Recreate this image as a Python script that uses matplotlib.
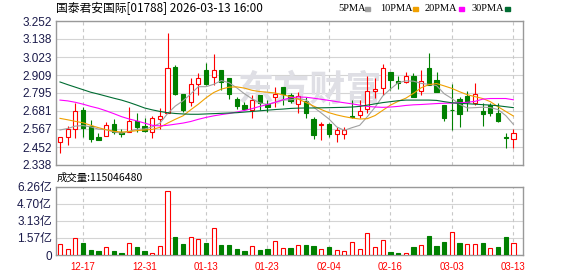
import numpy as np
import matplotlib
matplotlib.use("Agg")
import matplotlib.pyplot as plt
from matplotlib.patches import Rectangle

plt.rcParams['font.family'] = ['Liberation Sans', 'Noto Sans CJK SC', 'DejaVu Sans']

# --- data ---
opens = [2.482, 2.513, 2.568, 2.687, 2.585, 2.516, 2.522, 2.596, 2.547, 2.545,
         2.615, 2.585, 2.549, 2.632, 2.670, 2.958, 2.789, 2.736, 2.852, 2.941,
         2.894, 2.941, 2.890, 2.755, 2.717, 2.687, 2.782, 2.725, 2.772, 2.831,
         2.782, 2.725, 2.746, 2.628, 2.592, 2.598, 2.534, 2.532, 2.649, 2.653,
         2.695, 2.810, 2.825, 2.928, 2.873, 2.863, 2.903, 2.810, 2.954, 2.877,
         2.719, 2.689, 2.757, 2.778, 2.733, 2.681, 2.719, 2.668, 2.513, 2.501]
highs = [2.517, 2.585, 2.729, 2.708, 2.624, 2.539, 2.613, 2.630, 2.566, 2.708,
         2.666, 2.634, 2.649, 2.698, 3.178, 2.973, 2.789, 2.888, 2.924, 2.983,
         3.042, 2.941, 2.890, 2.767, 2.738, 2.782, 2.782, 2.750, 2.831, 2.831,
         2.793, 2.803, 2.767, 2.645, 2.613, 2.607, 2.581, 2.581, 2.750, 2.750,
         2.903, 2.888, 2.979, 2.928, 2.903, 2.928, 2.924, 2.941, 3.051, 2.930,
         2.719, 2.852, 2.772, 2.808, 2.856, 2.729, 2.729, 2.729, 2.539, 2.566]
lows = [2.416, 2.467, 2.511, 2.518, 2.482, 2.494, 2.522, 2.532, 2.518, 2.545,
        2.549, 2.547, 2.511, 2.566, 2.665, 2.782, 2.672, 2.714, 2.782, 2.846,
        2.846, 2.814, 2.759, 2.695, 2.687, 2.638, 2.687, 2.676, 2.708, 2.719,
        2.733, 2.670, 2.634, 2.501, 2.496, 2.513, 2.484, 2.501, 2.634, 2.634,
        2.666, 2.761, 2.782, 2.814, 2.820, 2.856, 2.772, 2.784, 2.846, 2.803,
        2.619, 2.560, 2.581, 2.683, 2.719, 2.587, 2.651, 2.613, 2.448, 2.448]
closes = [2.513, 2.566, 2.681, 2.571, 2.501, 2.494, 2.594, 2.547, 2.535, 2.615,
          2.581, 2.551, 2.634, 2.649, 2.951, 2.789, 2.687, 2.850, 2.888, 2.852,
          2.941, 2.867, 2.786, 2.712, 2.691, 2.750, 2.729, 2.704, 2.786, 2.789,
          2.742, 2.776, 2.670, 2.528, 2.598, 2.534, 2.560, 2.560, 2.640, 2.681,
          2.808, 2.820, 2.951, 2.877, 2.861, 2.901, 2.772, 2.871, 2.846, 2.803,
          2.638, 2.685, 2.664, 2.740, 2.786, 2.664, 2.666, 2.619, 2.509, 2.539]

ma5 = [2.560, 2.570, 2.585, 2.588, 2.580, 2.566, 2.562, 2.548, 2.540, 2.552,
       2.565, 2.566, 2.580, 2.603, 2.665, 2.712, 2.745, 2.788, 2.835, 2.835,
       2.850, 2.874, 2.860, 2.828, 2.790, 2.758, 2.732, 2.722, 2.735, 2.750,
       2.752, 2.759, 2.752, 2.705, 2.668, 2.630, 2.580, 2.558, 2.575, 2.590,
       2.645, 2.705, 2.776, 2.820, 2.860, 2.872, 2.870, 2.856, 2.850, 2.842,
       2.790, 2.760, 2.723, 2.700, 2.702, 2.705, 2.702, 2.690, 2.652, 2.596]
ma10 = [2.634, 2.625, 2.615, 2.606, 2.590, 2.575, 2.562, 2.552, 2.547, 2.550,
        2.556, 2.560, 2.564, 2.577, 2.604, 2.628, 2.650, 2.688, 2.724, 2.764,
        2.798, 2.820, 2.832, 2.834, 2.826, 2.812, 2.804, 2.800, 2.795, 2.783,
        2.772, 2.756, 2.735, 2.712, 2.690, 2.670, 2.656, 2.645, 2.636, 2.630,
        2.632, 2.652, 2.685, 2.718, 2.742, 2.762, 2.793, 2.828, 2.848, 2.855,
        2.840, 2.824, 2.803, 2.784, 2.772, 2.760, 2.740, 2.708, 2.678, 2.649]
ma20 = [2.750, 2.745, 2.736, 2.724, 2.710, 2.698, 2.682, 2.664, 2.645, 2.630,
        2.618, 2.604, 2.590, 2.586, 2.590, 2.597, 2.604, 2.614, 2.628, 2.640,
        2.650, 2.658, 2.665, 2.674, 2.684, 2.696, 2.710, 2.722, 2.736, 2.752,
        2.765, 2.770, 2.768, 2.762, 2.755, 2.748, 2.740, 2.733, 2.726, 2.718,
        2.710, 2.706, 2.704, 2.706, 2.710, 2.716, 2.720, 2.722, 2.725, 2.728,
        2.730, 2.731, 2.733, 2.736, 2.742, 2.756, 2.760, 2.760, 2.760, 2.752]
ma30 = [2.865, 2.848, 2.832, 2.816, 2.800, 2.788, 2.775, 2.762, 2.750, 2.735,
        2.718, 2.700, 2.688, 2.678, 2.670, 2.665, 2.662, 2.660, 2.660, 2.662,
        2.664, 2.666, 2.668, 2.670, 2.674, 2.678, 2.682, 2.686, 2.690, 2.693,
        2.697, 2.699, 2.700, 2.700, 2.701, 2.702, 2.703, 2.704, 2.706, 2.710,
        2.718, 2.726, 2.734, 2.740, 2.746, 2.750, 2.750, 2.750, 2.750, 2.748,
        2.740, 2.733, 2.729, 2.727, 2.724, 2.721, 2.718, 2.714, 2.708, 2.702]

# volume in 亿
volume = [0.98, 0.52, 1.53, 1.10, 0.46, 0.37, 0.71, 0.37, 0.18, 1.07,
          0.74, 0.37, 0.18, 0.83, 5.90, 1.66, 1.01, 1.66, 1.47, 1.10,
          2.49, 0.92, 0.92, 0.55, 0.37, 0.83, 0.46, 0.55, 1.29, 0.64,
          0.64, 0.92, 0.92, 0.83, 0.55, 0.74, 0.46, 0.37, 1.20, 0.55,
          2.03, 0.74, 1.38, 0.28, 0.18, 0.18, 0.74, 0.92, 1.78, 0.83,
          1.20, 2.09, 1.10, 1.01, 1.01, 1.10, 0.64, 0.74, 1.69, 1.15]
vol_up = [1, 1, 1, 0, 0, 0, 1, 0, 0, 1, 0, 0, 1, 1, 1, 0, 0, 1, 1, 0,
          1, 0, 0, 0, 0, 1, 0, 0, 1, 1, 0, 1, 0, 0, 1, 0, 1, 1, 1, 1,
          1, 1, 1, 0, 0, 1, 0, 1, 0, 0, 0, 1, 0, 1, 1, 0, 1, 0, 0, 1]

date_pos = [3, 11, 19, 27, 35, 43, 51, 59]
date_labels = ['12-17', '12-31', '01-13', '01-23', '02-04', '02-16', '03-03', '03-13']
price_ticks = [2.338, 2.452, 2.567, 2.681, 2.795, 2.909, 3.023, 3.138, 3.252]
vol_ticks = [0, 1.57, 3.13, 4.70, 6.26]
vol_tick_labels = ['0', '1.57亿', '3.13亿', '4.70亿', '6.26亿']

RED = '#ff0000'
GREEN = '#008000'
GRID = '#d4d4d4'
SPINE = '#999999'
TICKC = '#1a1a4a'

W, H = 578, 276
def rect(l, t, r, b):
    return [l / W, 1 - b / H, (r - l) / W, (b - t) / H]

fig = plt.figure(figsize=(5.78, 2.76), dpi=100)
ax = fig.add_axes(rect(56, 21, 523, 165))
axv = fig.add_axes(rect(56, 187, 523, 255))

x = np.arange(len(closes))
o = np.array(opens); c = np.array(closes)
up = c >= o
ccol = np.where(up, RED, GREEN)
bottom = np.minimum(o, c)
height = np.maximum(np.abs(c - o), 0.004)

ax.vlines(x, lows, highs, colors=ccol, lw=0.8, zorder=3)
ax.bar(x, height, bottom=bottom, width=0.55, color=np.where(up, 'white', GREEN),
       edgecolor=ccol, lw=0.8, zorder=4)

ax.plot(x, ma5, color='#a0a0a0', lw=0.8, zorder=5)
ax.plot(x, ma10, color='#f0a000', lw=0.8, zorder=5)
ax.plot(x, ma20, color='#ff00ff', lw=0.8, zorder=5)
ax.plot(x, ma30, color='#006c32', lw=0.8, zorder=5)

ax.text(0.545, 0.52, '东方财富', transform=ax.transAxes, ha='center', va='center',
        fontsize=26, fontweight='bold', color='#dfdfe5', zorder=1.5,
        family=['Noto Sans CJK SC'])

vcol = [RED if u else GREEN for u in vol_up]
vface = ['white' if u else GREEN for u in vol_up]
axv.bar(x, volume, width=0.55, color=vface, edgecolor=vcol, lw=0.8, zorder=3)

for a in (ax, axv):
    a.set_xlim(-0.52, 60.25)
    for s in a.spines.values():
        s.set_color(SPINE)
        s.set_linewidth(1)
    a.grid(axis='y', color=GRID, lw=0.8, zorder=1)
    for p in date_pos:
        a.axvline(p, color='#c8c8c8', lw=0.8, ls=(0, (3, 3)), zorder=1)
    a.tick_params(length=0, labelsize=8.5, labelcolor=TICKC, pad=3)
    a.set_axisbelow(True)

ax.set_ylim(2.338, 3.252)
ax.set_yticks(price_ticks)
ax.set_yticklabels([f'{t:.3f}' for t in price_ticks])
ax.set_xticks([])

axv.set_ylim(0, 6.26)
axv.set_yticks(vol_ticks)
axv.set_yticklabels(vol_tick_labels)
axv.set_xticks(date_pos)
axv.set_xticklabels(date_labels, color=RED, fontsize=7)
axv.tick_params(axis='x', pad=5)

# header
fig.text(56 / W, 1 - 8.5 / H, '国泰君安国际[01788] 2026-03-13 16:00', fontsize=8.5,
         va='center', ha='left', color='black', family=['Noto Sans CJK SC'])
legend = [('5PMA', 338, 365, '#a0a0a0'), ('10PMA', 380, 413, '#f0a000'),
          ('20PMA', 425, 459, '#ff00ff'), ('30PMA', 472, 505, '#006c32')]
for name, tx, sx, col in legend:
    fig.text(tx / W, 1 - 8.5 / H, name, fontsize=7.5, va='center', ha='left',
             family=['Liberation Serif'])
    fig.patches.append(Rectangle((sx / W, 1 - 10.5 / H), 5 / W, 4 / H,
                                 transform=fig.transFigure, color=col))

fig.text(57 / W, 1 - 178 / H, '成交量:115046480', fontsize=7.5, va='center', ha='left',
         family=['Noto Sans CJK SC'])

fig.savefig('out.png', dpi=100)
